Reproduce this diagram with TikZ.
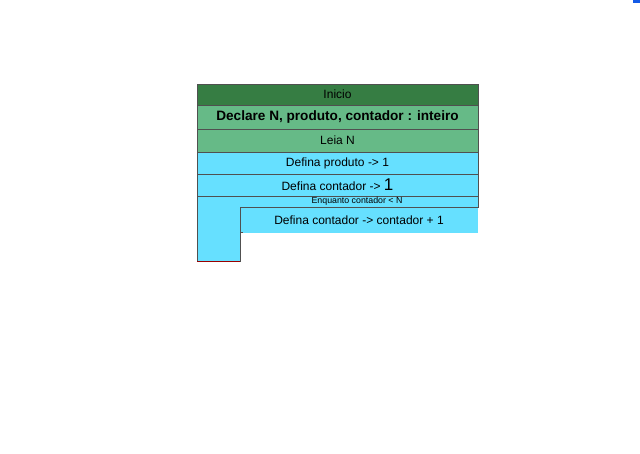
\documentclass[tikz,border=0pt]{standalone}
\usepackage{fontspec}
\setmainfont{Liberation Sans}
\usetikzlibrary{positioning}

\definecolor{verdeescuro}{RGB}{54,125,67}
\definecolor{verdeclaro}{RGB}{102,186,135}
\definecolor{ciano}{RGB}{102,224,255}
\definecolor{borda}{RGB}{80,80,80}
\definecolor{marca}{RGB}{20,90,230}

\begin{document}
\begin{tikzpicture}[
    x=1pt, y=-1pt,
    bloco/.style={rectangle, draw=borda, line width=0.5pt, fill=ciano, minimum width=281pt, minimum height=22pt, inner sep=0pt, outer sep=0pt, text centered, font=\fontsize{12}{14}\selectfont},
    cond/.style={inner sep=0pt, font=\fontsize{8.8}{10}\selectfont}
]
\useasboundingbox (0,0) rectangle (640,453);
\fill[marca] (633,0) rectangle (640,3);

% Nodes
\node (inicio) [bloco, fill=verdeescuro, minimum height=21pt] at (337.5,94.5) {Inicio};
\node (declare) [bloco, fill=verdeclaro, minimum height=24pt, font=\fontsize{13.6}{16}\selectfont\bfseries, below=0pt of inicio] {Declare N, produto, contador : inteiro};
\node (leia) [bloco, fill=verdeclaro, minimum height=23pt, below=0pt of declare] {Leia N};
\node (produto) [bloco, below=0pt of leia] {Defina produto -> 1};
\node (contador) [bloco, below=0pt of produto] {Defina contador -> {\fontsize{17}{18}\selectfont 1}};

% Enquanto
\filldraw[fill=ciano, draw=borda, line width=0.5pt] (contador.south west) -- (contador.south east) -- ++(0,11) -- (240,207) -- (240,261) -- (197,261) -- cycle;
\draw[red!60!black, line width=0.8pt] (197,261) -- (240,261);
\node (enquanto) [cond] at (357,201.5) {Enquanto contador < N};
\node (corpo) [bloco, minimum width=238pt, minimum height=26pt, draw=none, anchor=north west] at (240,207) {Defina contador -> contador + 1};
\draw[borda, line width=0.8pt] (corpo.south west) -- (corpo.north west) -- (corpo.north east);
\draw[borda, line width=0.6pt] (240,232) -- (243,232);

\end{tikzpicture}
\end{document}
